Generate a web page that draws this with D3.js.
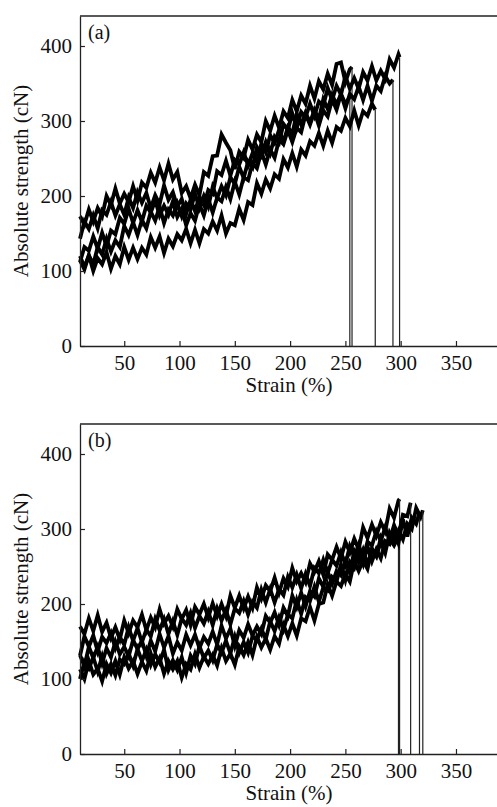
<!DOCTYPE html>
<html lang="en">
  <head>
    <meta charset="UTF-8" />
    <title>Absolute strength vs strain</title>
    <style>
      body { margin: 0; background: #fff; }
      text { font-family: "Liberation Serif", "Times New Roman", serif; fill: #111; }
    </style>
  </head>
  <body>
    <div class="chart"></div>
    <script src="https://d3js.org/d3.v7.min.js"></script>
    <script>
      // axis ticks
      const xTicks = [50, 100, 150, 200, 250, 300, 350];
      const yTicks = [0, 100, 200, 300, 400];

      // every curve is sampled from strain 10 % in 4 % steps
      const strainStart = 10;
      const strainStep = 4;

      // (a) five specimens
      const curveA1 = [173,162,182,166,184,173,200,188,210,190,203,192,213,194,218,211,231,218,238,221,243,222,232,204,213,197,215,201,232,227,
        253,254,282,271,261,236,259,251,275,262,282,272,300,287,307,291,313,304,328,313,334,323,347,330,353,342,363,348,376,378,352,369];
      const curveA2 = [143,166,156,174,157,181,175,192,174,189,175,198,184,205,191,204,184,201,189,214,195,205,186,196,176,195,180,199,188,208,
        203,233,228,247,227,248,242,258,241,257,245,270,258,281,271,288,272,292,283,310,295,311,298,315,302,329,316,335,322,336,323];
      const curveA3 = [114,102,121,100,117,109,125,103,120,109,132,115,131,116,131,122,145,131,146,124,143,133,149,141,156,137,155,137,156,150,
        166,154,174,150,164,161,183,168,192,188,217,203,222,210,229,223,249,238,257,239,262,254,273,267,284,267,287,271,292,287,
        304,293,314,294,313,307,323];
      const curveA4 = [112,132,127,146,130,151,133,154,149,171,163,183,164,181,166,187,178,194,174,187,175,193,172,183,161,177,167,189,174,196,
        178,198,193,212,196,219,202,225,221,244,237,259,242,262,251,275,269,288,272,291,285,309,295,312,294,314,306,329,315,336,
        317,336,329,346,328,347,327,347,340,360,350];
      const curveA5 = [120,105,121,109,132,122,143,126,141,132,160,148,165,148,168,157,179,167,186,164,182,174,190,173,190,182,203,184,200,186,
        212,197,213,201,225,216,239,224,246,238,265,254,272,257,279,271,296,288,310,291,312,305,323,307,326,320,344,328,347,335,
        360,343,357,343,365,354,373,354,367,356,382,371,389];
      const breakStrainA = [256, 254, 277, 293, 299];
      const breakValueA = [372, 332, 315, 355, 385];

      // (b) five specimens
      const curveB1 = [170,160,181,164,185,163,175,155,169,153,178,161,178,169,186,165,182,169,193,174,184,170,193,180,192,172,196,186,200,182,
        201,184,200,184,211,195,211,194,210,195,222,207,225,217,235,215,234,223,248,230,241,229,254,243,257,239,266,259,276,261,
        283,269,287,273,302,288,306,291,309,297,327,315,338];
      const curveB2 = [131,157,143,158,137,156,148,161,141,156,146,169,151,168,149,166,157,180,165,180,160,177,159,181,172,188,168,184,174,190,
        172,194,178,192,173,194,188,204,186,203,195,219,202,220,202,220,212,236,222,239,221,240,224,248,241,259,241,259,251,269,
        253,277,263,279,261,283,278,297,284,302,285,305,291,319,317];
      const curveB3 = [132,117,143,128,143,121,141,129,150,133,143,130,152,140,151,131,151,137,160,142,157,134,149,138,159,145,159,141,156,147,
        163,146,171,154,167,144,165,155,173,158,170,160,184,175,189,172,195,184,211,196,215,197,217,210,234,223,243,227,244,238,
        257,243,270,256,272,252,274,264,288,274,287,278];
      const curveB4 = [100,123,114,129,110,130,107,120,105,126,120,134,118,140,124,139,119,133,122,139,112,125,112,129,108,131,120,144,128,138,
        125,146,135,151,134,156,135,149,135,157,152,167,153,177,164,182,166,186,181,205,187,209,204,223,203,222,218,236,230,253,
        232,256,248,267,253,277,257,273,261,284,280,297,281,313,290,315,307];
      const curveB5 = [113,100,124,106,114,97,120,108,124,106,129,114,124,107,123,111,134,116,128,107,124,113,124,102,120,113,133,115,130,120,
        132,118,141,124,134,119,143,132,149,132,156,142,154,139,157,147,172,157,174,158,181,177,196,178,200,202,226,211,230,224,
        240,230,257,244,258,247,273,264,283,268,295,284,298,286,307,300,328,316];
      const breakStrainB = [299, 309, 298, 317, 320];
      const breakValueB = [340, 335, 290, 322, 325];

      const panels = [
        { label: "(a)", top: 16, bottom: 346,
          curves: [curveA1, curveA2, curveA3, curveA4, curveA5],
          breakStrain: breakStrainA, breakValue: breakValueA },
        { label: "(b)", top: 424, bottom: 754,
          curves: [curveB1, curveB2, curveB3, curveB4, curveB5],
          breakStrain: breakStrainB, breakValue: breakValueB },
      ];

      const width = 497;
      const height = 807;
      const left = 80;
      const right = 498;

      const svg = d3
        .select(".chart")
        .append("svg")
        .attr("width", width)
        .attr("height", height);

      const xScale = d3.scaleLinear().domain([10, 388]).range([left, right]);

      const drawPanel = (p) => {
        const yScale = d3.scaleLinear().domain([0, 440]).range([p.bottom, p.top]);
        const g = svg.append("g");

        // 曲線
        const line = d3
          .line()
          .x((d) => xScale(d[0]))
          .y((d) => yScale(d[1]));

        p.curves.forEach((values, k) => {
          const pts = values.map((v, i) => [strainStart + strainStep * i, v]);
          pts.push([p.breakStrain[k], p.breakValue[k]]);
          g.append("path")
            .datum(pts)
            .attr("d", line)
            .attr("fill", "none")
            .attr("stroke", "#000")
            .attr("stroke-width", 3.8)
            .attr("stroke-linejoin", "miter")
            .attr("stroke-miterlimit", 4);
          // 斷裂
          g.append("line")
            .attr("x1", xScale(p.breakStrain[k]))
            .attr("x2", xScale(p.breakStrain[k]))
            .attr("y1", yScale(p.breakValue[k]))
            .attr("y2", yScale(0))
            .attr("stroke", "#222")
            .attr("stroke-width", 1.2);
        });

        // 軸線
        const xAxis = g
          .append("g")
          .attr("transform", `translate(0,${p.bottom})`)
          .call(d3.axisBottom(xScale).tickValues(xTicks).tickSizeInner(-5).tickSizeOuter(0).tickPadding(9));
        const yAxis = g
          .append("g")
          .attr("transform", `translate(${left},0)`)
          .call(d3.axisLeft(yScale).tickValues(yTicks).tickSizeInner(-5).tickSizeOuter(0).tickPadding(8));

        [xAxis, yAxis].forEach((a) => {
          a.attr("font-family", null);
          a.selectAll("text").style("font-size", "21px").attr("fill", "#111");
          a.selectAll("line").attr("stroke", "#222").attr("stroke-width", 1.2);
          a.select(".domain").attr("stroke", "#222").attr("stroke-width", 1.3);
        });

        g.append("line")
          .attr("x1", left)
          .attr("x2", right)
          .attr("y1", p.top)
          .attr("y2", p.top)
          .attr("stroke", "#222")
          .attr("stroke-width", 1.3);

        g.append("text")
          .attr("x", 88)
          .attr("y", p.top + 23)
          .style("font-size", "20px")
          .text(p.label);

        g.append("text")
          .attr("x", 289)
          .attr("y", p.bottom + 46)
          .attr("text-anchor", "middle")
          .style("font-size", "21px")
          .text("Strain (%)");

        g.append("text")
          .attr("transform", `translate(28,${(p.top + p.bottom) / 2}) rotate(-90)`)
          .attr("text-anchor", "middle")
          .style("font-size", "21px")
          .text("Absolute strength (cN)");
      };

      panels.forEach(drawPanel);
    </script>
  </body>
</html>
